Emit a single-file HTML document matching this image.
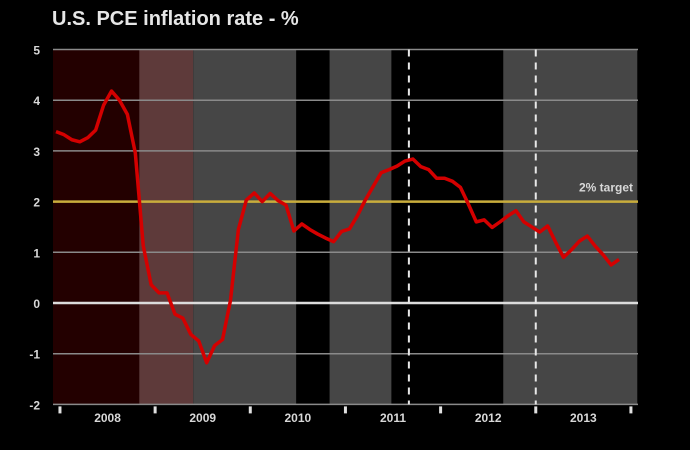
<!DOCTYPE html>
<html><head><meta charset="utf-8"><style>
html,body{margin:0;padding:0;background:#000;width:690px;height:450px;overflow:hidden}
svg{display:block;font-family:"Liberation Sans",Arial,sans-serif}
</style></head><body>
<svg id="chart" width="690" height="450">
<text x="52" y="25" font-size="20" font-weight="bold" fill="#e6e6e6">U.S. PCE inflation rate - %</text>
<g id="bands"></g><g id="grid"></g><g id="axes"></g><g id="series"></g>
</svg>
<script>
const months = [];
const values = [3.38,3.32,3.22,3.18,3.26,3.41,3.9,4.18,4.0,3.72,2.96,1.13,
0.36,0.2,0.2,-0.22,-0.3,-0.62,-0.75,-1.18,-0.84,-0.72,0.05,1.45,
2.03,2.17,2.0,2.16,2.02,1.93,1.42,1.56,1.45,1.36,1.28,1.21,
1.41,1.46,1.72,2.03,2.3,2.57,2.63,2.7,2.8,2.84,2.69,2.63,
2.46,2.46,2.4,2.28,1.95,1.6,1.64,1.49,1.6,1.72,1.82,1.6,
1.5,1.4,1.52,1.2,0.9,1.05,1.22,1.32,1.12,0.95,0.75,0.86];
for(let i=0;i<values.length;i++) months.push(i);
const yTicks = [5,4,3,2,1,0,-1,-2];
const years = ["2008","2009","2010","2011","2012","2013"];
const target = 2;
// shaded bands: [startMonth, endMonth, color]
const bandStarts = [-0.5, 10.5, 17.3, 30.3, 34.5, 42.3, 56.4];
const bandEnds   = [10.5, 17.3, 30.3, 34.5, 42.3, 56.4, 73.3];
const bandColors = ["#230000","#5e3a3a","#464646","#000000","#464646","#000000","#464646"];
const dashedMonths = [44.5, 60.5];

const X0=56, DX=7.93, Y0=303, DY=50.7, PL=53, PR=638;
const x = m => X0 + m*DX;
const y = v => Y0 - v*DY;
const NS="http://www.w3.org/2000/svg";
function mk(tag, attrs, parent){const e=document.createElementNS(NS,tag);for(const k in attrs)e.setAttribute(k,attrs[k]);parent.appendChild(e);return e;}
const bands=document.getElementById('bands'),grid=document.getElementById('grid'),axes=document.getElementById('axes'),series=document.getElementById('series');
const yTop=y(5), yBot=y(-2);
bandStarts.forEach((s,i)=>{
  const x1=Math.max(PL,x(s)), x2=Math.min(PR,x(bandEnds[i]));
  const r=mk('rect',{x:x1,y:yTop,width:x2-x1,height:yBot-yTop,fill:bandColors[i]},bands);
  
  
});
yTicks.forEach(v=>{
  const l=mk('line',{x1:PL,x2:PR,y1:y(v),y2:y(v),stroke:v===0?'#dcdcdc':'#8a8a8a','stroke-width':v===0?2.5:1.5},grid);
  
  
  const t=mk('text',{x:40,y:y(v)+5,'text-anchor':'end','font-size':12,'font-weight':'bold',fill:'#d8d8d8'},axes);
  t.textContent=v;
  
  
});
dashedMonths.forEach(m=>{
  const l=mk('line',{x1:x(m),x2:x(m),y1:yTop,y2:yBot,stroke:'#e8e8e8','stroke-width':2,'stroke-dasharray':'7,6'},grid);
  
  
});
const tl=mk('line',{x1:PL,x2:PR,y1:y(target),y2:y(target),stroke:'#c9ad3c','stroke-width':2.5},grid);


const tt=mk('text',{x:633,y:y(target)-10,'text-anchor':'end','font-size':12,'font-weight':'bold',fill:'#d8d8d8'},grid);
tt.textContent='2% target';


for(let k=0;k<=years.length;k++){
  const xm=x(k*12+0.5);
  const tk=mk('line',{x1:xm,x2:xm,y1:yBot+2,y2:yBot+9,stroke:'#e0e0e0','stroke-width':3},axes);
  
  
  if(k<years.length){
    const t=mk('text',{x:x(k*12+6.5),y:422,'text-anchor':'middle','font-size':12,'font-weight':'bold',fill:'#d8d8d8'},axes);
    t.textContent=years[k];
    
    
  }
}
const p=mk('polyline',{points:months.map((m,i)=>x(m)+','+y(values[i])).join(' '),fill:'none',stroke:'#d40000','stroke-width':3.5,'stroke-linejoin':'round'},series);


</script>
</body></html>
